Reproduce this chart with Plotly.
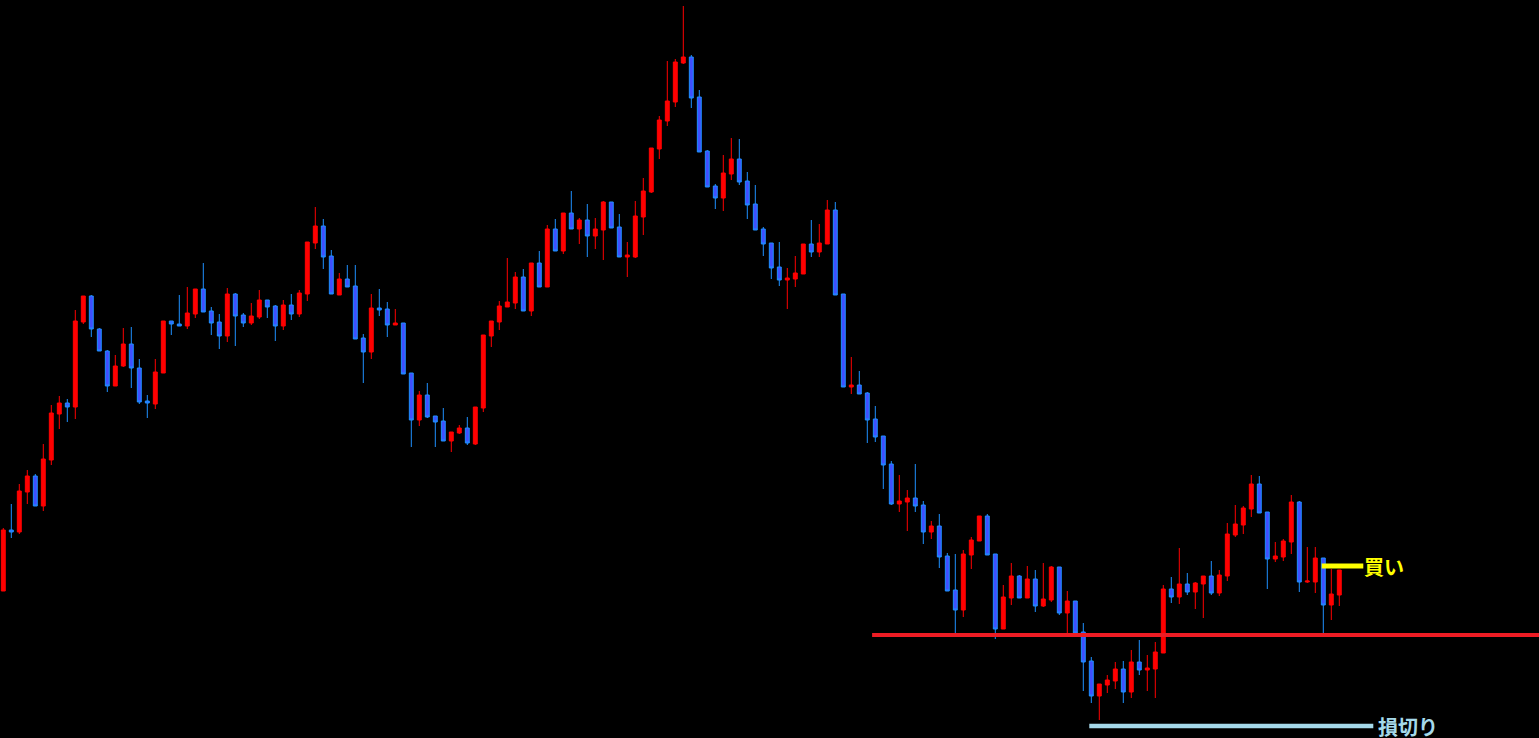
import plotly.graph_objects as go

# ---- data (price levels) ----
opens = [
    146.09,146.70,146.68,147.08,147.24,146.94,147.40,147.86,147.97,147.93,
    148.78,149.04,148.71,148.49,148.14,148.34,148.56,148.32,147.99,147.96,
    148.27,148.79,148.76,148.74,148.86,149.11,148.89,148.78,148.64,149.06,
    148.85,148.77,148.83,149.00,148.94,148.74,148.95,148.86,149.06,149.57,
    149.74,149.44,149.05,149.21,149.14,148.62,148.48,148.92,148.91,148.75,
    148.77,148.27,147.80,148.05,147.84,147.79,147.59,147.67,147.72,147.56,
    147.92,148.64,148.78,148.93,148.97,149.23,148.89,149.37,149.13,149.71,
    149.49,149.87,149.71,149.80,149.64,149.70,149.98,149.73,149.43,149.43,
    149.83,150.08,150.51,150.79,150.98,151.37,151.43,151.03,150.49,150.14,
    150.02,150.26,150.41,150.19,149.96,149.71,149.57,149.33,149.20,149.21,
    149.26,149.56,149.48,149.56,149.90,149.06,148.13,148.15,148.07,147.81,
    147.64,147.36,146.96,146.98,147.02,146.95,146.68,146.74,146.44,146.10,
    145.90,146.45,146.59,146.84,146.46,145.71,146.02,146.24,146.02,146.21,
    145.94,146.00,146.33,145.87,145.99,145.68,145.39,145.04,145.15,145.19,
    145.31,145.08,145.38,145.30,145.31,145.47,146.11,146.03,146.16,146.08,
    146.16,146.24,146.07,146.24,146.65,146.75,146.91,147.16,146.88,146.41,
    146.43,146.58,146.98,146.18,146.18,146.42,145.95,146.05,
]
highs = [
    146.72,146.96,147.16,147.30,147.26,147.56,147.95,148.04,148.01,148.90,
    149.04,149.05,148.72,148.50,148.45,148.72,148.73,148.41,148.05,148.41,
    148.79,148.79,149.05,149.13,149.11,149.37,148.93,148.86,149.12,149.07,
    148.87,148.97,149.10,149.00,148.95,149.00,149.06,149.10,149.58,149.93,
    149.81,149.50,149.27,149.35,149.35,148.66,149.06,149.11,148.98,148.91,
    148.77,148.27,148.09,148.17,147.84,147.92,147.68,147.75,147.83,147.93,
    148.65,148.79,148.99,149.42,149.28,149.31,149.37,149.49,149.75,149.81,
    149.87,150.09,149.82,149.96,149.82,149.99,149.98,149.86,149.58,149.99,
    150.22,150.52,150.84,151.39,151.41,151.94,151.45,151.10,150.50,150.16,
    150.45,150.62,150.61,150.28,150.15,149.73,149.57,149.58,149.32,149.44,
    149.56,149.80,149.76,150.00,149.98,149.06,148.43,148.29,148.08,147.94,
    147.64,147.39,147.25,147.10,147.36,146.99,146.79,146.86,146.47,146.46,
    146.50,146.63,146.84,146.86,146.46,146.15,146.37,146.25,146.34,146.30,
    146.37,146.34,146.33,146.09,145.99,145.77,145.43,145.16,145.25,145.38,
    145.39,145.50,145.60,145.45,145.58,146.15,146.23,146.52,146.27,146.18,
    146.24,146.39,146.30,146.77,146.95,146.94,147.25,147.24,146.88,146.58,
    146.61,147.05,146.99,146.53,146.53,146.42,146.31,146.30,
]
lows = [
    146.09,146.62,146.66,146.96,146.94,146.89,147.35,147.71,147.78,147.81,
    148.76,148.63,148.49,148.08,148.14,148.33,148.12,147.96,147.82,147.91,
    148.27,148.65,148.74,148.71,148.82,148.88,148.65,148.51,148.58,148.54,
    148.73,148.75,148.81,148.82,148.59,148.70,148.80,148.83,148.99,149.51,
    149.31,149.06,149.05,149.13,148.61,148.17,148.41,148.84,148.63,148.75,
    148.26,147.53,147.74,147.82,147.53,147.59,147.48,147.66,147.55,147.55,
    147.88,148.53,148.70,148.93,148.91,148.89,148.84,149.13,149.13,149.49,
    149.46,149.71,149.56,149.43,149.51,149.40,149.72,149.43,149.23,149.42,
    149.65,150.07,150.41,150.74,150.93,151.36,150.92,150.48,150.13,149.91,
    149.89,150.20,150.15,149.81,149.70,149.44,149.21,149.14,148.91,149.13,
    149.26,149.43,149.43,149.56,149.05,148.13,148.06,148.06,147.57,147.58,
    147.11,146.95,146.88,146.69,146.88,146.56,146.61,146.32,146.09,145.67,
    145.83,146.31,146.59,146.45,145.61,145.71,145.95,146.02,146.02,145.88,
    145.93,145.98,145.85,145.66,145.67,145.09,144.97,144.80,145.07,145.11,
    144.97,145.02,145.25,145.09,145.02,145.47,145.97,145.96,146.05,145.91,
    145.82,146.05,146.04,146.19,146.63,146.66,146.83,146.87,146.11,146.38,
    146.39,146.46,146.08,146.17,146.07,145.67,145.80,145.94,
]
closes = [
    146.70,146.68,147.09,147.24,146.94,147.41,147.87,147.97,147.93,148.79,
    149.04,148.71,148.49,148.14,148.34,148.56,148.32,147.98,147.97,148.28,
    148.79,148.76,148.74,148.87,149.11,148.88,148.77,148.64,149.06,148.84,
    148.77,148.84,149.00,148.93,148.74,148.95,148.86,149.07,149.58,149.74,
    149.43,149.06,149.21,149.13,148.61,148.48,148.92,148.90,148.75,148.77,
    148.26,147.80,148.05,147.83,147.78,147.59,147.68,147.72,147.57,147.93,
    148.65,148.79,148.94,148.98,149.23,148.89,149.37,149.13,149.71,149.49,
    149.87,149.71,149.80,149.64,149.71,149.98,149.72,149.43,149.45,149.84,
    150.09,150.52,150.80,150.99,151.38,151.43,151.02,150.48,150.13,150.02,
    150.27,150.41,150.18,149.95,149.70,149.56,149.32,149.20,149.22,149.27,
    149.56,149.48,149.57,149.90,149.05,148.13,148.15,148.06,147.80,147.63,
    147.35,146.96,146.99,147.02,146.94,146.68,146.74,146.43,146.09,145.90,
    146.46,146.60,146.84,146.45,145.71,146.03,146.24,146.02,146.21,145.94,
    146.01,146.33,145.87,145.99,145.67,145.38,145.04,145.16,145.20,145.31,
    145.08,145.38,145.30,145.32,145.48,146.11,146.03,146.16,146.08,146.17,
    146.24,146.07,146.25,146.66,146.76,146.92,147.16,146.87,146.41,146.44,
    146.59,146.98,146.18,146.19,146.42,145.95,146.06,146.30,
]
bars = list(range(len(opens)))

support_level = 145.65   # red horizontal line
entry_level = 146.34     # yellow "買い" line
stop_level = 144.74      # light-blue "損切り" line
entry_label = "買い"
stop_label = "損切り"

# ---- figure ----
fig = go.Figure()
fig.add_trace(go.Candlestick(
    x=bars, open=opens, high=highs, low=lows, close=closes,
    increasing=dict(line=dict(color="#FF0000", width=1), fillcolor="#FF0000"),
    decreasing=dict(line=dict(color="#1E90FF", width=1), fillcolor="#3F4FFF"),
    hoverinfo="skip", showlegend=False,
))

X_MIN, X_MAX = -0.4125, 191.9625

fig.add_shape(type="line", xref="x", yref="y", x0=108.6, x1=X_MAX,
              y0=support_level, y1=support_level,
              line=dict(color="#ED1C24", width=4))
fig.add_shape(type="line", xref="x", yref="y", x0=164.8, x1=170.0,
              y0=entry_level, y1=entry_level,
              line=dict(color="#FFFF00", width=5))
fig.add_shape(type="line", xref="x", yref="y", x0=135.75, x1=171.25,
              y0=stop_level, y1=stop_level,
              line=dict(color="#A5D9EA", width=4.5))

fig.add_annotation(x=170.0, y=entry_level, xref="x", yref="y", text="<b>" + entry_label + "</b>",
                   showarrow=False, xanchor="left", yanchor="middle", height=24,
                   valign="middle", borderpad=0,
                   font=dict(family="Noto Sans CJK JP", size=20, color="#FFFF00"))
fig.add_annotation(x=171.7, y=stop_level, xref="x", yref="y", text="<b>" + stop_label + "</b>",
                   showarrow=False, xanchor="left", yanchor="middle", height=22,
                   valign="middle", borderpad=0,
                   font=dict(family="Noto Sans CJK JP", size=20, color="#A5D9EA"))

fig.update_layout(
    width=1539, height=738,
    margin=dict(l=0, r=0, t=0, b=0),
    paper_bgcolor="#000000", plot_bgcolor="#000000",
    xaxis=dict(range=[X_MIN, X_MAX], visible=False, rangeslider=dict(visible=False),
               showgrid=False, zeroline=False, fixedrange=True),
    yaxis=dict(range=[144.62, 152.00], visible=False, showgrid=False, zeroline=False,
               fixedrange=True),
    showlegend=False,
    hovermode=False,
)

fig.write_html("out.html", config={"displayModeBar": False})

# remove the default page margin so the chart fills the window exactly
with open("out.html", "r", encoding="utf-8") as f:
    html = f.read()
html = html.replace("<head>", "<head><style>html,body{margin:0;padding:0;background:#000;overflow:hidden;}</style>", 1)
with open("out.html", "w", encoding="utf-8") as f:
    f.write(html)
